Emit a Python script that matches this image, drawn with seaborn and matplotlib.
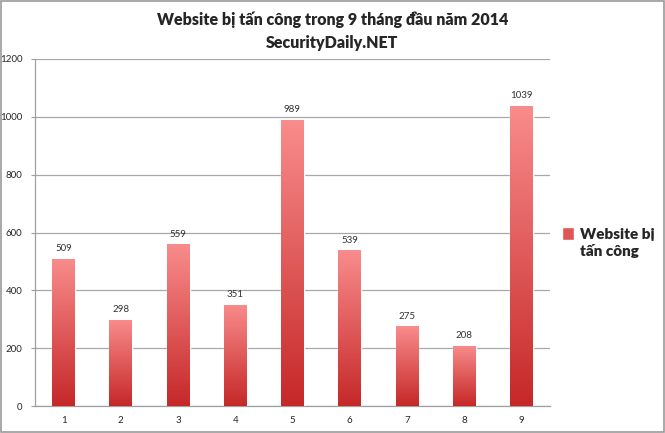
import numpy as np
import pandas as pd
import seaborn as sns
import matplotlib.pyplot as plt
from matplotlib.colors import LinearSegmentedColormap
from matplotlib.patches import Rectangle
from matplotlib.font_manager import FontProperties
from matplotlib.legend_handler import HandlerPatch

# data
months = ['1', '2', '3', '4', '5', '6', '7', '8', '9']
attacks = [509, 298, 559, 351, 989, 539, 275, 208, 1039]
series_name = 'Website bị\ntấn công'
title_1 = 'Website bị tấn công trong 9 tháng đầu năm 2014'
title_2 = 'SecurityDaily.NET'

df = pd.DataFrame({'month': months, 'attacks': attacks})

sns.set_style('white')
plt.rcParams['font.family'] = ['Lato', 'DejaVu Sans']

fig = plt.figure(figsize=(6.65, 4.33), dpi=100)
ax = fig.add_axes([35 / 665, 27 / 433, 515 / 665, 347 / 433])

sns.barplot(data=df, x='month', y='attacks', color='#d83a3a', width=0.4,
            ax=ax, zorder=3)

# gradient fill inside every bar: light pink on top, dark red at bottom
grad_cmap = LinearSegmentedColormap.from_list('bar', ['#c62828', '#f98c8c'])
grad = np.linspace(0, 1, 256).reshape(-1, 1)
for bar in ax.patches:
    x0, w, h = bar.get_x(), bar.get_width(), bar.get_height()
    im = ax.imshow(grad, cmap=grad_cmap, origin='lower', aspect='auto',
                   extent=[x0, x0 + w, 0, h], zorder=4)
    im.set_clip_path(bar)
ax.set_xlim(-0.5, 8.5)
ax.set_ylim(0, 1200)

ax.bar_label(ax.containers[0], padding=4, fontsize=7, color='#333333')

# axes styling
ax.set_yticks(range(0, 1201, 200))
ax.yaxis.grid(True, color='#a8a8a8', linewidth=0.9, zorder=0)
ax.set_axisbelow(True)
for side in ['top', 'right']:
    ax.spines[side].set_visible(False)
for side in ['left', 'bottom']:
    ax.spines[side].set_color('#a0a0a0')
    ax.spines[side].set_linewidth(0.9)
ax.set_xticks(np.arange(-0.5, 9, 1), minor=True)
ax.tick_params(axis='x', which='major', length=0, labelsize=7, pad=7)
ax.tick_params(axis='x', which='minor', length=4, color='#a0a0a0', direction='out')
ax.tick_params(axis='y', length=3, color='#a0a0a0', labelsize=7, pad=6, left=True)
ax.set_xlabel('')
ax.set_ylabel('')

fig.text(0.5, 0.955, title_1, ha='center', va='center', fontsize=11.5, fontweight='heavy')
fig.text(0.5, 0.90, title_2, ha='center', va='center', fontsize=11.5, fontweight='heavy')


# legend square sits next to the first line of the two-line label
def top_square(legend, orig_handle, xdescent, ydescent, width, height, fontsize):
    size = width
    yc = -ydescent + height / 2 + 0.62 * fontsize
    return Rectangle((-xdescent, yc - size / 2), size, size)


handle = Rectangle((0, 0), 1, 1, facecolor='#e05555')
legend_font = FontProperties(family=['Lato', 'DejaVu Sans'], weight='heavy', size=11)
fig.legend([handle], [series_name], loc='upper left', bbox_to_anchor=(556 / 665, 1 - 222 / 433),
           frameon=False, prop=legend_font, handlelength=0.8,
           handleheight=0.8, handletextpad=0.35, borderaxespad=0,
           handler_map={Rectangle: HandlerPatch(patch_func=top_square)})

# thin frame around the whole image
fig.patches.append(Rectangle((0.002, 0.003), 0.996, 0.994, transform=fig.transFigure,
                             fill=False, edgecolor='#9a9a9a', linewidth=1.2))

fig.savefig('out.png', dpi=100)
